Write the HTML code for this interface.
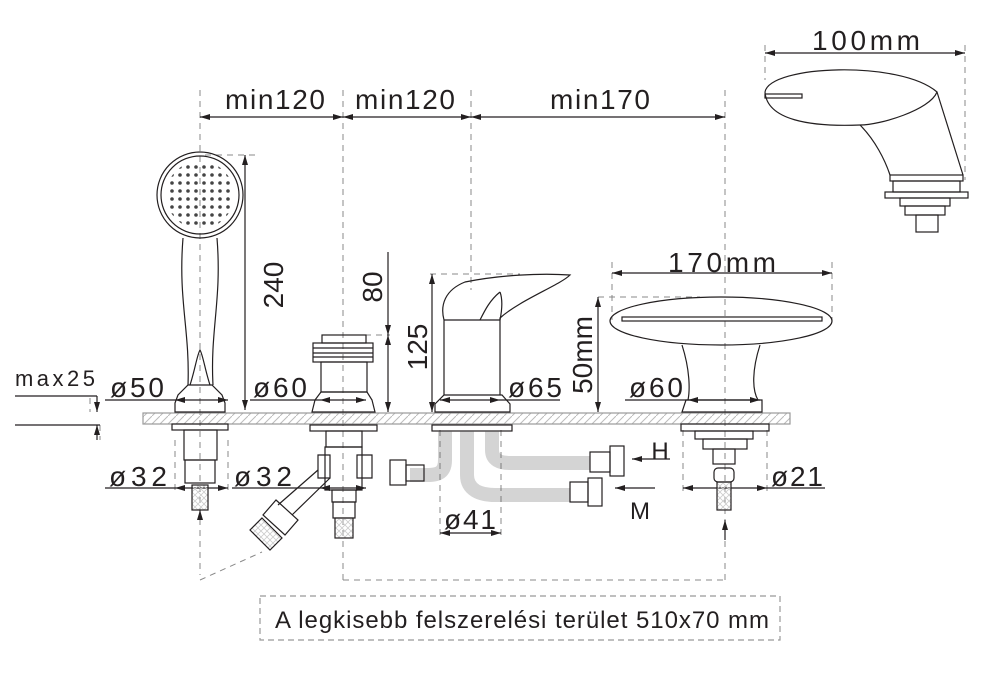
<!DOCTYPE html>
<html><head><meta charset="utf-8"><style>
html,body{margin:0;padding:0;background:#fff;}
svg{display:block;}
text{font-family:"Liberation Sans",sans-serif;fill:#231f20;}
</style></head><body>
<svg width="990" height="675" viewBox="0 0 990 675" xmlns="http://www.w3.org/2000/svg">
<defs>
<marker id="a" markerWidth="10" markerHeight="6" refX="10" refY="3" orient="auto-start-reverse" markerUnits="userSpaceOnUse"><path d="M0,0 L10,3 L0,6 z" fill="#231f20"/></marker>
<pattern id="h" width="8" height="8" patternUnits="userSpaceOnUse"><path d="M0,8 L8,0" stroke="#bbb" stroke-width="1"/></pattern>
<pattern id="br" width="6" height="6" patternUnits="userSpaceOnUse"><path d="M0,6 L6,0 M0,0 L6,6" stroke="#ccc" stroke-width="0.8"/></pattern>
<pattern id="dots" x="200" y="195" width="8" height="8" patternUnits="userSpaceOnUse"><circle cx="4" cy="4" r="1.8" fill="#444"/></pattern>
</defs>
<g fill="none" stroke="#231f20" stroke-width="1.2">
<rect x="143" y="413" width="647" height="11" fill="url(#h)" stroke="#999"/>
<g stroke="#888" stroke-dasharray="6,5" stroke-width="1">
<line x1="200" y1="90" x2="200" y2="575"/>
<line x1="343" y1="90" x2="343" y2="580"/>
<line x1="471" y1="90" x2="471" y2="290"/>
<line x1="725" y1="90" x2="725" y2="580"/>
<line x1="343" y1="580" x2="725" y2="580"/>
<line x1="200" y1="580" x2="262" y2="552"/>
<line x1="205" y1="155" x2="255" y2="155"/>
<line x1="343" y1="335" x2="390" y2="335"/>
<line x1="430" y1="274" x2="520" y2="274"/>
<line x1="598" y1="297" x2="700" y2="297"/>
<line x1="612" y1="262" x2="612" y2="320"/>
<line x1="832" y1="262" x2="832" y2="320"/>
<line x1="765" y1="45" x2="765" y2="80"/>
<line x1="965" y1="45" x2="965" y2="180"/>
<line x1="90" y1="398" x2="90" y2="412"/>
<line x1="100" y1="425" x2="100" y2="440"/>
<line x1="440" y1="430" x2="440" y2="540"/>
<line x1="501" y1="430" x2="501" y2="540"/>
<line x1="683" y1="430" x2="683" y2="495"/>
<line x1="767" y1="430" x2="767" y2="495"/>
<line x1="175" y1="440" x2="175" y2="490"/>
<line x1="228" y1="440" x2="228" y2="490"/>
</g>
<rect x="260" y="596" width="520" height="44" stroke="#999" stroke-dasharray="6,4"/>
<line x1="200" y1="117" x2="343" y2="117" marker-start="url(#a)" marker-end="url(#a)"/>
<line x1="343" y1="117" x2="471" y2="117" marker-start="url(#a)" marker-end="url(#a)"/>
<line x1="471" y1="117" x2="725" y2="117" marker-start="url(#a)" marker-end="url(#a)"/>
<line x1="245" y1="155" x2="245" y2="410" marker-start="url(#a)" marker-end="url(#a)"/>
<line x1="388" y1="252" x2="388" y2="335" marker-end="url(#a)"/>
<line x1="388" y1="335" x2="388" y2="412" marker-start="url(#a)" marker-end="url(#a)"/>
<line x1="432" y1="274" x2="432" y2="412" marker-start="url(#a)" marker-end="url(#a)"/>
<line x1="598" y1="297" x2="598" y2="412" marker-start="url(#a)" marker-end="url(#a)"/>
<line x1="612" y1="273" x2="832" y2="273" marker-start="url(#a)" marker-end="url(#a)"/>
<line x1="765" y1="53" x2="965" y2="53" marker-start="url(#a)" marker-end="url(#a)"/>
<line x1="15" y1="396" x2="97" y2="396"/><line x1="97" y1="396" x2="97" y2="412" marker-end="url(#a)"/>
<line x1="15" y1="425" x2="100" y2="425"/><line x1="97" y1="440" x2="97" y2="425" marker-end="url(#a)"/>
<line x1="105" y1="400" x2="175" y2="400"/><line x1="175" y1="400" x2="228" y2="400" marker-start="url(#a)" marker-end="url(#a)"/>
<line x1="250" y1="400" x2="320" y2="400"/><line x1="320" y1="400" x2="366" y2="400" marker-start="url(#a)" marker-end="url(#a)"/>
<line x1="440" y1="400" x2="500" y2="400" marker-start="url(#a)" marker-end="url(#a)"/><line x1="500" y1="400" x2="560" y2="400"/>
<line x1="625" y1="400" x2="688" y2="400"/><line x1="688" y1="400" x2="760" y2="400" marker-start="url(#a)" marker-end="url(#a)"/>
<line x1="105" y1="488" x2="175" y2="488"/><line x1="175" y1="488" x2="228" y2="488" marker-start="url(#a)" marker-end="url(#a)"/>
<line x1="232" y1="488" x2="320" y2="488"/><line x1="320" y1="488" x2="366" y2="488" marker-start="url(#a)" marker-end="url(#a)"/>
<line x1="440" y1="533" x2="501" y2="533" marker-start="url(#a)" marker-end="url(#a)"/>
<line x1="683" y1="488" x2="767" y2="488" marker-start="url(#a)" marker-end="url(#a)"/><line x1="767" y1="488" x2="825" y2="488"/>
<line x1="670" y1="459" x2="632" y2="459" marker-end="url(#a)"/>
<line x1="655" y1="488" x2="615" y2="488" marker-end="url(#a)"/>
<line x1="200" y1="510" x2="200" y2="520" marker-start="url(#a)"/>
<line x1="725" y1="520" x2="725" y2="540" marker-start="url(#a)"/>
<!-- hand shower -->
<circle cx="200" cy="195" r="43"/><circle cx="200" cy="195" r="39"/>
<circle cx="200" cy="195" r="34" fill="url(#dots)" stroke="none"/>
<path d="M183,238 C178,300 190,330 188,385 M217,238 C222,300 210,330 213,385"/>
<path d="M190,385 C195,370 197,355 200,350 C203,355 205,370 210,385"/>
<path d="M188,385 L212,385 L222,395 L225,403 L225,412 L175,412 L175,403 L178,395 Z"/>
<rect x="172" y="424" width="56" height="6"/>
<rect x="184" y="430" width="33" height="30"/>
<rect x="185" y="460" width="30" height="23"/>
<rect x="192" y="485" width="16" height="25" fill="url(#br)"/>
<!-- diverter -->
<rect x="322" y="335" width="44" height="8"/>
<rect x="313" y="343" width="60" height="19"/>
<path d="M313,348 H373 M313,353 H373 M313,357 H373"/>
<rect x="321" y="362" width="46" height="30"/>
<path d="M321,392 L367,392 L372,400 L375,412 L312,412 L315,400 Z"/>
<rect x="310" y="425" width="67" height="6"/>
<rect x="326" y="431" width="36" height="16"/>
<path d="M325,447 H362 V490 H325 Z"/>
<path d="M318,455 L330,455 L330,478 L318,478 Z M357,455 L372,455 L372,478 L357,478 Z"/>
<rect x="332" y="490" width="24" height="12"/>
<rect x="333" y="502" width="22" height="16"/>
<rect x="335" y="518" width="18" height="20" fill="url(#br)"/>
<path d="M318,470 L278,505 M330,478 L292,515"/>
<path d="M276,500 L298,520 L285,535 L263,515 Z"/>
<path d="M262,518 L282,538 L270,550 L250,530 Z" fill="url(#br)"/>
<!-- mixer -->
<path d="M444,395 V320 C440,305 445,290 465,282 C500,275 540,273 570,275 C560,285 520,300 500,318 L500,395"/>
<path d="M444,320 L500,320 C502,310 503,300 500,292"/>
<path d="M500,292 C490,300 485,310 480,320"/>
<path d="M444,395 L502,395 L510,404 L510,412 L435,412 L435,404 Z"/>
<rect x="432" y="425" width="80" height="6"/>
<path d="M445,431 V460 C445,475 435,475 425,475 H410" stroke-width="14" stroke="#555" opacity="0.25"/>
<path d="M467,431 V475 C467,490 480,495 495,495 H570" stroke-width="14" stroke="#555" opacity="0.25"/>
<path d="M492,431 V450 C492,460 500,463 510,463 H590" stroke-width="14" stroke="#555" opacity="0.25"/>
<rect x="390" y="460" width="16" height="25"/><rect x="406" y="465" width="18" height="16"/>
<rect x="570" y="482" width="18" height="20"/><rect x="588" y="478" width="14" height="28"/>
<rect x="590" y="452" width="20" height="20"/><rect x="610" y="446" width="14" height="30"/>
<!-- spout -->
<ellipse cx="721" cy="321" rx="111" ry="24"/>
<rect x="622" y="317" width="200" height="4"/>
<path d="M682,345 C690,370 690,390 688,400 M760,345 C752,370 752,390 758,400"/>
<path d="M686,400 H762 V412 H682 Z"/>
<rect x="681" y="424" width="88" height="7"/>
<rect x="695" y="431" width="58" height="8"/>
<rect x="703" y="439" width="44" height="10"/>
<rect x="713" y="449" width="22" height="15"/>
<rect x="714" y="468" width="20" height="14" rx="4"/>
<rect x="717" y="482" width="14" height="28" fill="url(#br)"/>
<!-- top-right spout -->
<path d="M765,92 C770,65 900,60 937,92 C930,110 880,125 860,125 C810,127 767,120 765,92"/>
<rect x="765" y="94" width="37" height="4"/>
<path d="M860,125 C875,140 885,160 890,175 M937,92 L963,175"/>
<rect x="890" y="175" width="73" height="6"/>
<rect x="893" y="181" width="67" height="11"/>
<rect x="885" y="192" width="83" height="6"/>
<rect x="900" y="198" width="50" height="8"/>
<rect x="905" y="206" width="40" height="9"/>
<rect x="916" y="215" width="22" height="17"/>
</g>
<g font-size="28">
<text x="275" y="109" text-anchor="middle" textLength="100">min120</text>
<text x="405" y="109" text-anchor="middle" textLength="100">min120</text>
<text x="600" y="109" text-anchor="middle" textLength="100">min170</text>
<text x="866" y="50" text-anchor="middle" textLength="108">100mm</text>
<text x="722" y="272" text-anchor="middle" textLength="108">170mm</text>
<text transform="translate(283,285) rotate(-90)" text-anchor="middle">240</text>
<text transform="translate(382,287) rotate(-90)" text-anchor="middle">80</text>
<text transform="translate(427,347) rotate(-90)" text-anchor="middle">125</text>
<text transform="translate(592,355) rotate(-90)" text-anchor="middle">50mm</text>
<text x="137" y="397" text-anchor="middle" textLength="54">ø50</text>
<text x="280" y="397" text-anchor="middle" textLength="54">ø60</text>
<text x="535" y="397" text-anchor="middle" textLength="54">ø65</text>
<text x="656" y="397" text-anchor="middle" textLength="54">ø60</text>
<text x="138" y="486" text-anchor="middle" textLength="58">ø32</text>
<text x="263" y="486" text-anchor="middle" textLength="58">ø32</text>
<text x="470" y="529" text-anchor="middle" textLength="52">ø41</text>
<text x="797" y="486" text-anchor="middle" textLength="52">ø21</text>
<text x="660" y="459" text-anchor="middle" font-size="24">H</text>
<text x="640" y="519" text-anchor="middle" font-size="24">M</text>
<text x="55" y="386" text-anchor="middle" font-size="22" textLength="80">max25</text>
<text x="522" y="628" text-anchor="middle" font-size="24" textLength="494">A legkisebb felszerelési terület 510x70 mm</text>
</g>
</svg>
</body></html>
